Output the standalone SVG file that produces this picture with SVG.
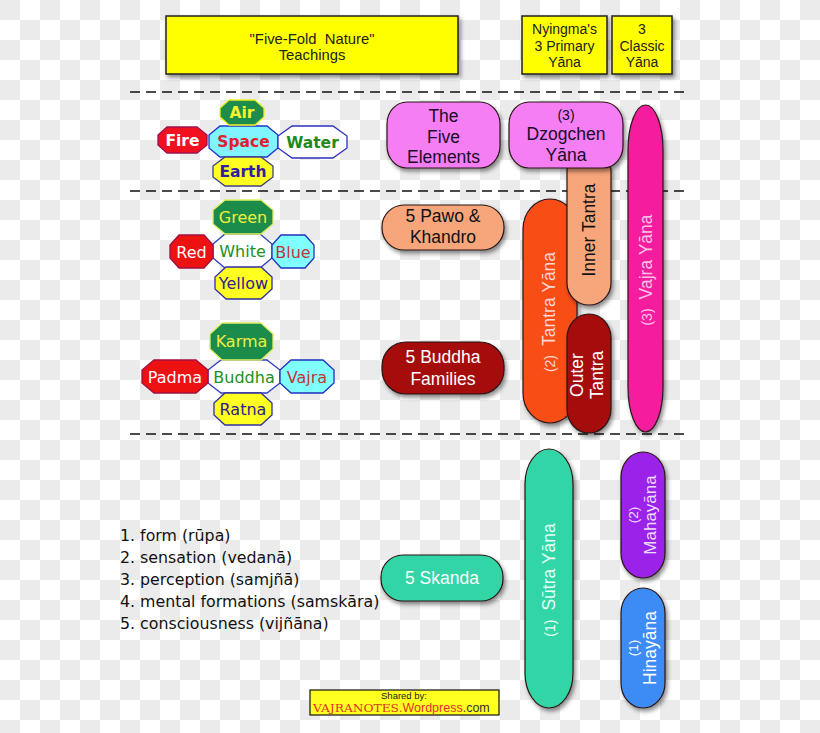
<svg xmlns="http://www.w3.org/2000/svg" width="820" height="733" viewBox="0 0 820 733">
<defs>
<pattern id="chk" width="40" height="40" patternUnits="userSpaceOnUse">
<rect width="40" height="40" fill="#ffffff"/>
<rect width="20" height="20" fill="#ebebeb"/>
<rect x="20" y="20" width="20" height="20" fill="#ebebeb"/>
</pattern>
<filter id="sh" x="-20%" y="-20%" width="150%" height="150%">
<feDropShadow dx="2" dy="3" stdDeviation="2" flood-color="#000" flood-opacity="0.45"/>
</filter>
</defs>
<style>
.hdr{fill:#ffff00;stroke:#222;stroke-width:1.5;filter:url(#sh)}
.ht{font-family:"Liberation Sans",Arial,sans-serif;font-size:14px;fill:#222;text-anchor:middle}
.sep{stroke:#111;stroke-width:1.5;stroke-dasharray:10 6;fill:none}
.pill{stroke:#2a1515;stroke-width:1.2;filter:url(#sh)}
.pt{font-family:"Liberation Sans",Arial,sans-serif;font-size:17.5px;text-anchor:middle}
.vt{font-family:"Liberation Sans",Arial,sans-serif;font-size:17.5px;text-anchor:middle}
.o1{font-family:"DejaVu Sans",Verdana,sans-serif;font-weight:bold;font-size:15.5px;text-anchor:middle}
.o2{font-family:"DejaVu Sans",Verdana,sans-serif;font-size:16px;text-anchor:middle}
.oct{stroke-width:1.3}
.list{font-family:"DejaVu Sans",Verdana,sans-serif;font-size:15.8px;fill:#111}
</style>
<rect width="820" height="733" fill="url(#chk)"/>

<g id="dividers">
<line class="sep" x1="130" y1="92" x2="686" y2="92"/>
<line class="sep" x1="130" y1="191" x2="686" y2="191"/>
<line class="sep" x1="130" y1="434" x2="686" y2="434"/>
</g>

<g id="header-teachings">
<rect class="hdr" x="166" y="16" width="292" height="58"/>
<text class="ht" x="312" y="44" style="font-size:14.8px">"Five-Fold&#160; Nature"</text>
<text class="ht" x="312" y="60" style="font-size:14.8px">Teachings</text>
</g>
<g id="header-nyingma">
<rect class="hdr" x="522" y="16" width="85" height="58"/>
<text class="ht" x="564.5" y="34">Nyingma's</text>
<text class="ht" x="564.5" y="51">3 Primary</text>
<text class="ht" x="564.5" y="67">Yāna</text>
</g>
<g id="header-classic">
<rect class="hdr" x="612" y="16" width="60" height="58"/>
<text class="ht" x="642" y="34">3</text>
<text class="ht" x="642" y="51">Classic</text>
<text class="ht" x="642" y="67">Yāna</text>
</g>

<g id="elements-octagons">
<g id="oct-space"><polygon class="oct" points="220,126 267,126 278,135 278,148 267,157 220,157 209,148 209,135" fill="#80f4ff" stroke="#2233cc" stroke-width="2"/><text class="o1" x="243.5" y="147" fill="#e0202e">Space</text></g>
<g id="oct-air"><polygon class="oct" points="229,100 255,100 264,108 264,117 255,125 229,125 220,117 220,108" fill="#1e8c4a" stroke="#f0f020"/><text class="o1" x="242" y="118" fill="#f4f430">Air</text></g>
<g id="oct-fire"><polygon class="oct" points="167,127 197,127 207,135 207,145 197,153 167,153 158,145 158,135" fill="#f01020" stroke="#a01050"/><text class="o1" x="182.5" y="146" fill="#ffffff">Fire</text></g>
<g id="oct-water"><polygon class="oct" points="292,126 333,126 347,136 347,148 333,158 292,158 278,148 278,136" fill="#ffffff" stroke="#3030c0"/><text class="o1" x="312.5" y="147.5" fill="#208a20">Water</text></g>
<g id="oct-earth"><polygon class="oct" points="225,157 261,157 273,166 273,177 261,186 225,186 213,177 213,166" fill="#ffff20" stroke="#404080"/><text class="o1" x="243" y="177" fill="#3020a0">Earth</text></g>
</g>

<g id="colour-octagons">
<g id="oct-white"><polygon class="oct" points="225,234 260,234 272,244 272,258 260,268 225,268 213,258 213,244" fill="#ffffff" stroke="#3040c0"/><text class="o2" x="242.5" y="257" fill="#209020">White</text></g>
<g id="oct-green"><polygon class="oct" points="225,200 261,200 273,210 273,224 261,234 225,234 213,224 213,210" fill="#1c8c4a" stroke="#e0f060"/><text class="o2" x="243" y="223" fill="#eef040">Green</text></g>
<g id="oct-red"><polygon class="oct" points="179,235 204,235 213,245 213,258 204,268 179,268 170,258 170,245" fill="#ee1111" stroke="#a01040"/><text class="o2" x="191.5" y="257.5" fill="#ffffff">Red</text></g>
<g id="oct-blue"><polygon class="oct" points="281,235 305,235 314,245 314,258 305,268 281,268 272,258 272,245" fill="#80ffff" stroke="#2030c0" stroke-width="2"/><text class="o2" x="293" y="257.5" fill="#c03535">Blue</text></g>
<g id="oct-yellow"><polygon class="oct" points="226,267 261,267 272,277 272,289 261,299 226,299 215,289 215,277" fill="#ffff20" stroke="#3030a0"/><text class="o2" x="243.5" y="289" fill="#302090">Yellow</text></g>
</g>

<g id="family-octagons">
<g id="oct-buddha"><polygon class="oct" points="221,360 267,360 280,370 280,383 267,393 221,393 208,383 208,370" fill="#ffffff" stroke="#3040c0"/><text class="o2" x="244" y="382.5" fill="#209020">Buddha</text></g>
<g id="oct-karma"><polygon class="oct" points="222,323 261,323 273,334 273,349 261,360 222,360 210,349 210,334" fill="#1c8c4a" stroke="#e0f060"/><text class="o2" x="241.5" y="347" fill="#eef040">Karma</text></g>
<g id="oct-padma"><polygon class="oct" points="154,360 196,360 208,370 208,383 196,393 154,393 142,383 142,370" fill="#ee1111" stroke="#a01040"/><text class="o2" x="175" y="382.5" fill="#ffffff">Padma</text></g>
<g id="oct-vajra"><polygon class="oct" points="291,360 323,360 334,370 334,383 323,393 291,393 280,383 280,370" fill="#80ffff" stroke="#2030c0" stroke-width="2"/><text class="o2" x="307" y="382.5" fill="#c03535">Vajra</text></g>
<g id="oct-ratna"><polygon class="oct" points="225,393 261,393 272,403 272,415 261,425 225,425 214,415 214,403" fill="#ffff20" stroke="#3030a0"/><text class="o2" x="243" y="415" fill="#302090">Ratna</text></g>
</g>

<g id="five-elements">
<rect class="pill" x="387" y="102" width="113" height="66" rx="20" ry="22" fill="#f57ef5"/>
<text class="pt" x="443.5" y="122" fill="#1a0a2a">The</text>
<text class="pt" x="443.5" y="142.5" fill="#1a0a2a">Five</text>
<text class="pt" x="443.5" y="163" fill="#1a0a2a">Elements</text>
</g>

<g id="tantra-yana">
<rect class="pill" x="523" y="199" width="54" height="224" rx="27" ry="30" fill="#f94d14"/>
<g transform="translate(549,312) rotate(-90)"><text class="vt" x="0" y="6" fill="#ffd6d0"><tspan font-size="14">(2)</tspan><tspan dx="9">Tantra Yāna</tspan></text></g>
</g>

<g id="inner-tantra">
<path class="pill" d="M571,166 H607 Q611,166 611,170 V283 A22,22 0 0 1 589,305 A22,22 0 0 1 567,283 V170 Q567,166 571,166 Z" fill="#f7a57a"/>
<g transform="translate(589,230) rotate(-90)"><text class="vt" x="0" y="6" fill="#111">Inner Tantra</text></g>
</g>

<g id="outer-tantra">
<rect class="pill" x="567" y="314" width="44" height="119" rx="22" ry="24" fill="#a50d0d"/>
<g transform="translate(589,375) rotate(-90)"><text class="vt" x="0" y="-6" fill="#ffffff">Outer</text><text class="vt" x="0" y="14" fill="#ffffff">Tantra</text></g>
</g>

<g id="dzogchen-yana">
<rect class="pill" x="509" y="102" width="114" height="66" rx="20" ry="22" fill="#f57ef5"/>
<text class="pt" x="566" y="120" fill="#1a0a2a" style="font-size:14px">(3)</text>
<text class="pt" x="566" y="140" fill="#1a0a2a">Dzogchen</text>
<text class="pt" x="566" y="161" fill="#1a0a2a">Yāna</text>
</g>

<g id="vajra-yana">
<rect class="pill" x="628" y="105" width="35" height="327" rx="17.5" ry="45" fill="#f51c9e"/>
<g transform="translate(646,270) rotate(-90)"><text class="vt" x="0" y="6" fill="#ffc2e6"><tspan font-size="14">(3)</tspan><tspan dx="9">Vajra Yāna</tspan></text></g>
</g>

<g id="pawo-khandro">
<rect class="pill" x="382" y="205" width="122" height="45" rx="22" fill="#f7a57a"/>
<text class="pt" x="443" y="222" fill="#111">5 Pawo &amp;</text>
<text class="pt" x="443" y="243" fill="#111">Khandro</text>
</g>

<g id="buddha-families">
<rect class="pill" x="382" y="342" width="122" height="52" rx="24" fill="#a50d0d"/>
<text class="pt" x="443" y="363" fill="#ffffff">5 Buddha</text>
<text class="pt" x="443" y="385" fill="#ffffff">Families</text>
</g>

<g id="skanda-list">
<text class="list" x="120" y="541">1. form (rūpa)</text>
<text class="list" x="120" y="563">2. sensation (vedanā)</text>
<text class="list" x="120" y="585">3. perception (samjñā)</text>
<text class="list" x="120" y="607">4. mental formations (samskāra)</text>
<text class="list" x="120" y="629">5. consciousness (vijñāna)</text>
</g>

<g id="five-skanda">
<rect class="pill" x="381" y="555" width="122" height="46" rx="22" fill="#33d6a6"/>
<text class="pt" x="442" y="584" fill="#ffffff">5 Skanda</text>
</g>

<g id="sutra-yana">
<rect class="pill" x="525" y="449" width="48" height="259" rx="24" ry="35" fill="#33d6a6"/>
<g transform="translate(549,580) rotate(-90)"><text class="vt" x="0" y="6" fill="#e4fff4"><tspan font-size="14">(1)</tspan><tspan dx="9">Sūtra Yāna</tspan></text></g>
</g>

<g id="mahayana">
<rect class="pill" x="621" y="452" width="44" height="126" rx="22" ry="25" fill="#9b20e8"/>
<g transform="translate(643,515) rotate(-90)"><text class="vt" x="0" y="-5" style="font-size:13.5px" fill="#f0dcff">(2)</text><text class="vt" x="0" y="12.5" style="font-size:17px" fill="#f0dcff">Mahayāna</text></g>
</g>

<g id="hinayana">
<rect class="pill" x="621" y="588" width="44" height="120" rx="22" ry="25" fill="#3d8cf5"/>
<g transform="translate(643,648) rotate(-90)"><text class="vt" x="0" y="-5" style="font-size:13.5px" fill="#ffffff">(1)</text><text class="vt" x="0" y="13" style="font-size:17.5px" fill="#ffffff">Hinayāna</text></g>
</g>

<g id="credit">
<rect x="310" y="690" width="189" height="25" fill="#ffff20" stroke="#111" stroke-width="1.2"/>
<text x="404" y="699" font-family="'Liberation Sans',Arial,sans-serif" font-size="9.5" fill="#222" text-anchor="middle">Shared by:</text>
<text x="313" y="712" font-family="'Liberation Sans',Arial,sans-serif" font-size="12.5"><tspan fill="#e0302a" font-family="'DejaVu Serif',serif" font-size="11" textLength="86" lengthAdjust="spacingAndGlyphs">VAJRANOTES</tspan><tspan fill="#e0302a">.Wordpress</tspan><tspan fill="#333">.com</tspan></text>
</g>
</svg>
